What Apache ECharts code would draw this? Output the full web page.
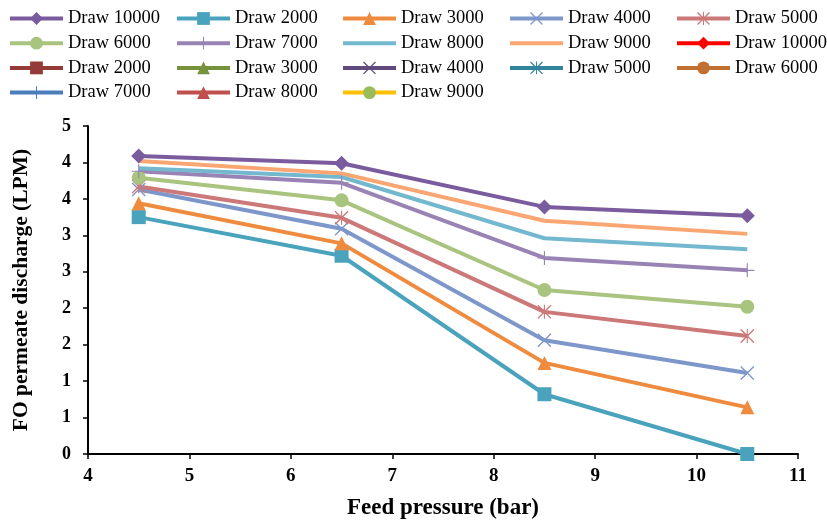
<!DOCTYPE html>
<html>
<head>
<meta charset="utf-8">
<script src="https://cdn.jsdelivr.net/npm/echarts@6/dist/echarts.min.js"></script>
<style>html,body{margin:0;padding:0;background:#fff}#c{width:827px;height:520px}</style>
</head>
<body>
<div id="c"></div>
<script>
const pressures = [4.5, 6.5, 8.5, 10.5];
const draw10000 = [4.09, 3.99, 3.39, 3.27];
const draw2000 = [3.25, 2.72, 0.82, 0.0];
const draw3000 = [3.44, 2.89, 1.25, 0.64];
const draw4000 = [3.63, 3.09, 1.56, 1.11];
const draw5000 = [3.67, 3.24, 1.95, 1.62];
const draw6000 = [3.79, 3.48, 2.25, 2.02];
const draw7000 = [3.88, 3.72, 2.69, 2.52];
const draw8000 = [3.92, 3.80, 2.96, 2.81];
const draw9000 = [4.02, 3.85, 3.20, 3.02];
const xTicks = [4, 5, 6, 7, 8, 9, 10, 11];

const FONT = '"Liberation Serif", "Times New Roman", serif';
const SYM_X = 'path://M0,0.7L0.7,0L10,9.3L9.3,10Z M9.3,0L10,0.7L0.7,10L0,9.3Z';
const SYM_STAR = 'path://M0,0.7L0.7,0L10,9.3L9.3,10Z M9.3,0L10,0.7L0.7,10L0,9.3Z M4.6,0L5.4,0L5.4,10L4.6,10Z';
const SYM_PLUS = 'path://M4.6,0L5.4,0L5.4,10L4.6,10Z M0,4.6L10,4.6L10,5.4L0,5.4Z';

function pts(arr) { return arr.map((v, i) => [pressures[i], v]); }

function mk(name, data, color, symbol, size, lineColor) {
  return {
    name: name,
    type: 'line',
    data: data ? pts(data) : [],
    symbol: symbol,
    symbolSize: size,
    showSymbol: symbol !== 'none',
    itemStyle: { color: color },
    lineStyle: { color: lineColor || color, width: 4 },
    emphasis: { disabled: true },
    animation: false
  };
}

const series = [
  mk('Draw 10000', draw10000, '#7A5C9E', 'diamond', 15),
  mk('Draw 2000', draw2000, '#4AA3BD', 'rect', 14),
  mk('Draw 3000', draw3000, '#EF8B3E', 'triangle', 14),
  mk('Draw 4000', draw4000, '#7D97CB', SYM_X, 14),
  mk('Draw 5000', draw5000, '#CD7878', SYM_STAR, 14),
  mk('Draw 6000', draw6000, '#A8C47E', 'circle', 14),
  mk('Draw 7000', draw7000, '#9983B5', SYM_PLUS, 14),
  mk('Draw 8000', draw8000, '#74B8CF', 'none', 0),
  mk('Draw 9000', draw9000, '#F9A672', 'none', 0),
  mk('Draw 10000 ', null, '#FF0000', 'diamond', 15),
  mk('Draw 2000 ', null, '#943B3A', 'rect', 14),
  mk('Draw 3000 ', null, '#76923C', 'triangle', 14),
  mk('Draw 4000 ', null, '#604A7B', SYM_X, 14),
  mk('Draw 5000 ', null, '#31849B', SYM_STAR, 14),
  mk('Draw 6000 ', null, '#C07030', 'circle', 14),
  mk('Draw 7000 ', null, '#4A7EBB', SYM_PLUS, 14),
  mk('Draw 8000 ', null, '#C0504D', 'triangle', 14),
  mk('Draw 9000 ', null, '#9BBB59', 'circle', 14, '#FFC000')
];

const noMarker = ['Draw 8000', 'Draw 9000'];

const cols = [
  { left: 8, data: ['Draw 10000', 'Draw 6000', 'Draw 2000 ', 'Draw 7000 '] },
  { left: 175, data: ['Draw 2000', 'Draw 7000', 'Draw 3000 ', 'Draw 8000 '] },
  { left: 341, data: ['Draw 3000', 'Draw 8000', 'Draw 4000 ', 'Draw 9000 '] },
  { left: 508, data: ['Draw 4000', 'Draw 9000', 'Draw 5000 '] },
  { left: 675, data: ['Draw 5000', 'Draw 10000 ', 'Draw 6000 '] }
];

const legends = cols.map(c => ({
  orient: 'vertical',
  left: c.left,
  top: 9,
  padding: 0,
  itemWidth: 53,
  itemHeight: 16,
  itemGap: 5.7,
  selectedMode: false,
  lineStyle: { width: 4 },
  data: c.data.map(n => noMarker.indexOf(n) >= 0 ? { name: n, itemStyle: { opacity: 0 } } : n),
  formatter: n => n.trim(),
  textStyle: { fontFamily: FONT, fontSize: 18.5, color: '#000' }
}));

const chart = echarts.init(document.getElementById('c'), null, { renderer: 'canvas' });
chart.setOption({
  backgroundColor: '#fff',
  animation: false,
  legend: legends,
  grid: { left: 88, right: 29, top: 126, bottom: 66, containLabel: false, outerBoundsMode: 'none' },
  xAxis: {
    type: 'value',
    min: xTicks[0],
    max: xTicks[xTicks.length - 1],
    interval: 1,
    name: 'Feed pressure (bar)',
    nameLocation: 'middle',
    nameGap: 43,
    nameTextStyle: { fontFamily: FONT, fontSize: 23, fontWeight: 'bold', color: '#000' },
    axisLine: { show: true, lineStyle: { color: '#000', width: 2 } },
    axisTick: { show: true, length: 5, lineStyle: { color: '#000', width: 1.5 } },
    axisLabel: { fontFamily: FONT, fontSize: 19, fontWeight: 'bold', color: '#000', margin: 13 },
    splitLine: { show: false }
  },
  yAxis: {
    type: 'value',
    min: 0,
    max: 4.5,
    interval: 0.5,
    name: 'FO permeate discharge (LPM)',
    nameLocation: 'middle',
    nameGap: 56,
    nameTextStyle: { fontFamily: FONT, fontSize: 21.5, fontWeight: 'bold', color: '#000' },
    axisLine: { show: true, lineStyle: { color: '#000', width: 2 } },
    axisTick: { show: true, length: 5, lineStyle: { color: '#000', width: 1.5 } },
    axisLabel: { fontFamily: FONT, fontSize: 18, fontWeight: 'bold', color: '#000', margin: 17,
      formatter: v => String(Math.round(v)) },
    splitLine: { show: false }
  },
  series: series
});
</script>
</body>
</html>
